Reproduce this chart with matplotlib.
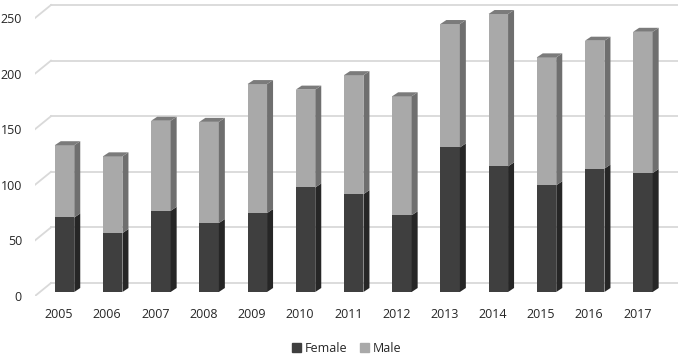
import numpy as np
import matplotlib.pyplot as plt
from matplotlib.patches import Patch

years = ['2005', '2006', '2007', '2008', '2009', '2010', '2011',
         '2012', '2013', '2014', '2015', '2016', '2017']
female = [67, 53, 73, 62, 71, 94, 88, 69, 130, 113, 96, 111, 107]
male = [65, 69, 81, 91, 116, 88, 107, 107, 111, 137, 115, 115, 127]
yticks = [0, 50, 100, 150, 200, 250]

plt.rcParams['font.family'] = ['Open Sans', 'DejaVu Sans']

fig = plt.figure(figsize=(6.85, 3.58), dpi=100)
ax = fig.add_axes([35/685, 62/358, 643/685, 294/358])
ax.set_xlim(-0.612, 12.728)
ax.set_ylim(-3.6, 260.8)

# pixel -> data helpers (oblique depth of the fake 3d bars)
px_x = 48.2
px_y = 1.112
dx = 6 / px_x
dy = 4 / px_y
w = 19.5 / px_x
wall = 9 / px_y  # back wall zero sits 9 px above the bar base

# gridlines: back wall + slanted floor piece on the left
x0 = -0.612
x1 = (51 - 64.5) / px_x
for v in yticks:
    ax.plot([x1, 12.728], [v + wall, v + wall], color='#d9d9d9', lw=1.3, zorder=0)
    ax.plot([x0, x1], [v + wall - 13 / px_y, v + wall], color='#d9d9d9', lw=1.3, zorder=0)

x = np.arange(len(years))
f = np.array(female)
t = f + np.array(male)

ax.bar(x, f, width=w, color='#3f3f3f', zorder=2)
ax.bar(x, male, width=w, bottom=f, color='#a9a9a9', zorder=2)

for i in range(len(years)):
    r = x[i] + w / 2
    l = x[i] - w / 2
    ax.fill([r, r + dx, r + dx, r], [0, dy, f[i] + dy, f[i]], color='#262626', lw=0, zorder=2)
    ax.fill([r, r + dx, r + dx, r], [f[i], f[i] + dy, t[i] + dy, t[i]], color='#6f6f6f', lw=0, zorder=2)
    ax.fill([l, r, r + dx, l + dx], [t[i], t[i], t[i] + dy, t[i] + dy], color='#7b7b7b', lw=0, zorder=2)

ax.set_yticks([v - 3.6 for v in yticks], labels=[str(v) for v in yticks])
ax.set_xticks(x - 5.5 / px_x, labels=years)
ax.tick_params(axis='both', length=0, labelsize=9, labelcolor='#262626')
ax.tick_params(axis='y', pad=9.4)
ax.tick_params(axis='x', pad=8.6)
for s in ax.spines.values():
    s.set_visible(False)

handles = [Patch(color='#3f3f3f', label='Female'), Patch(color='#a9a9a9', label='Male')]
fig.legend(handles=handles, loc='center', bbox_to_anchor=(0.506, 0.027), ncol=2,
           frameon=False, fontsize=9, handlelength=0.7, handleheight=0.7,
           handletextpad=0.3, columnspacing=1.0, labelcolor='#262626')

fig.savefig('out.png', dpi=100)
